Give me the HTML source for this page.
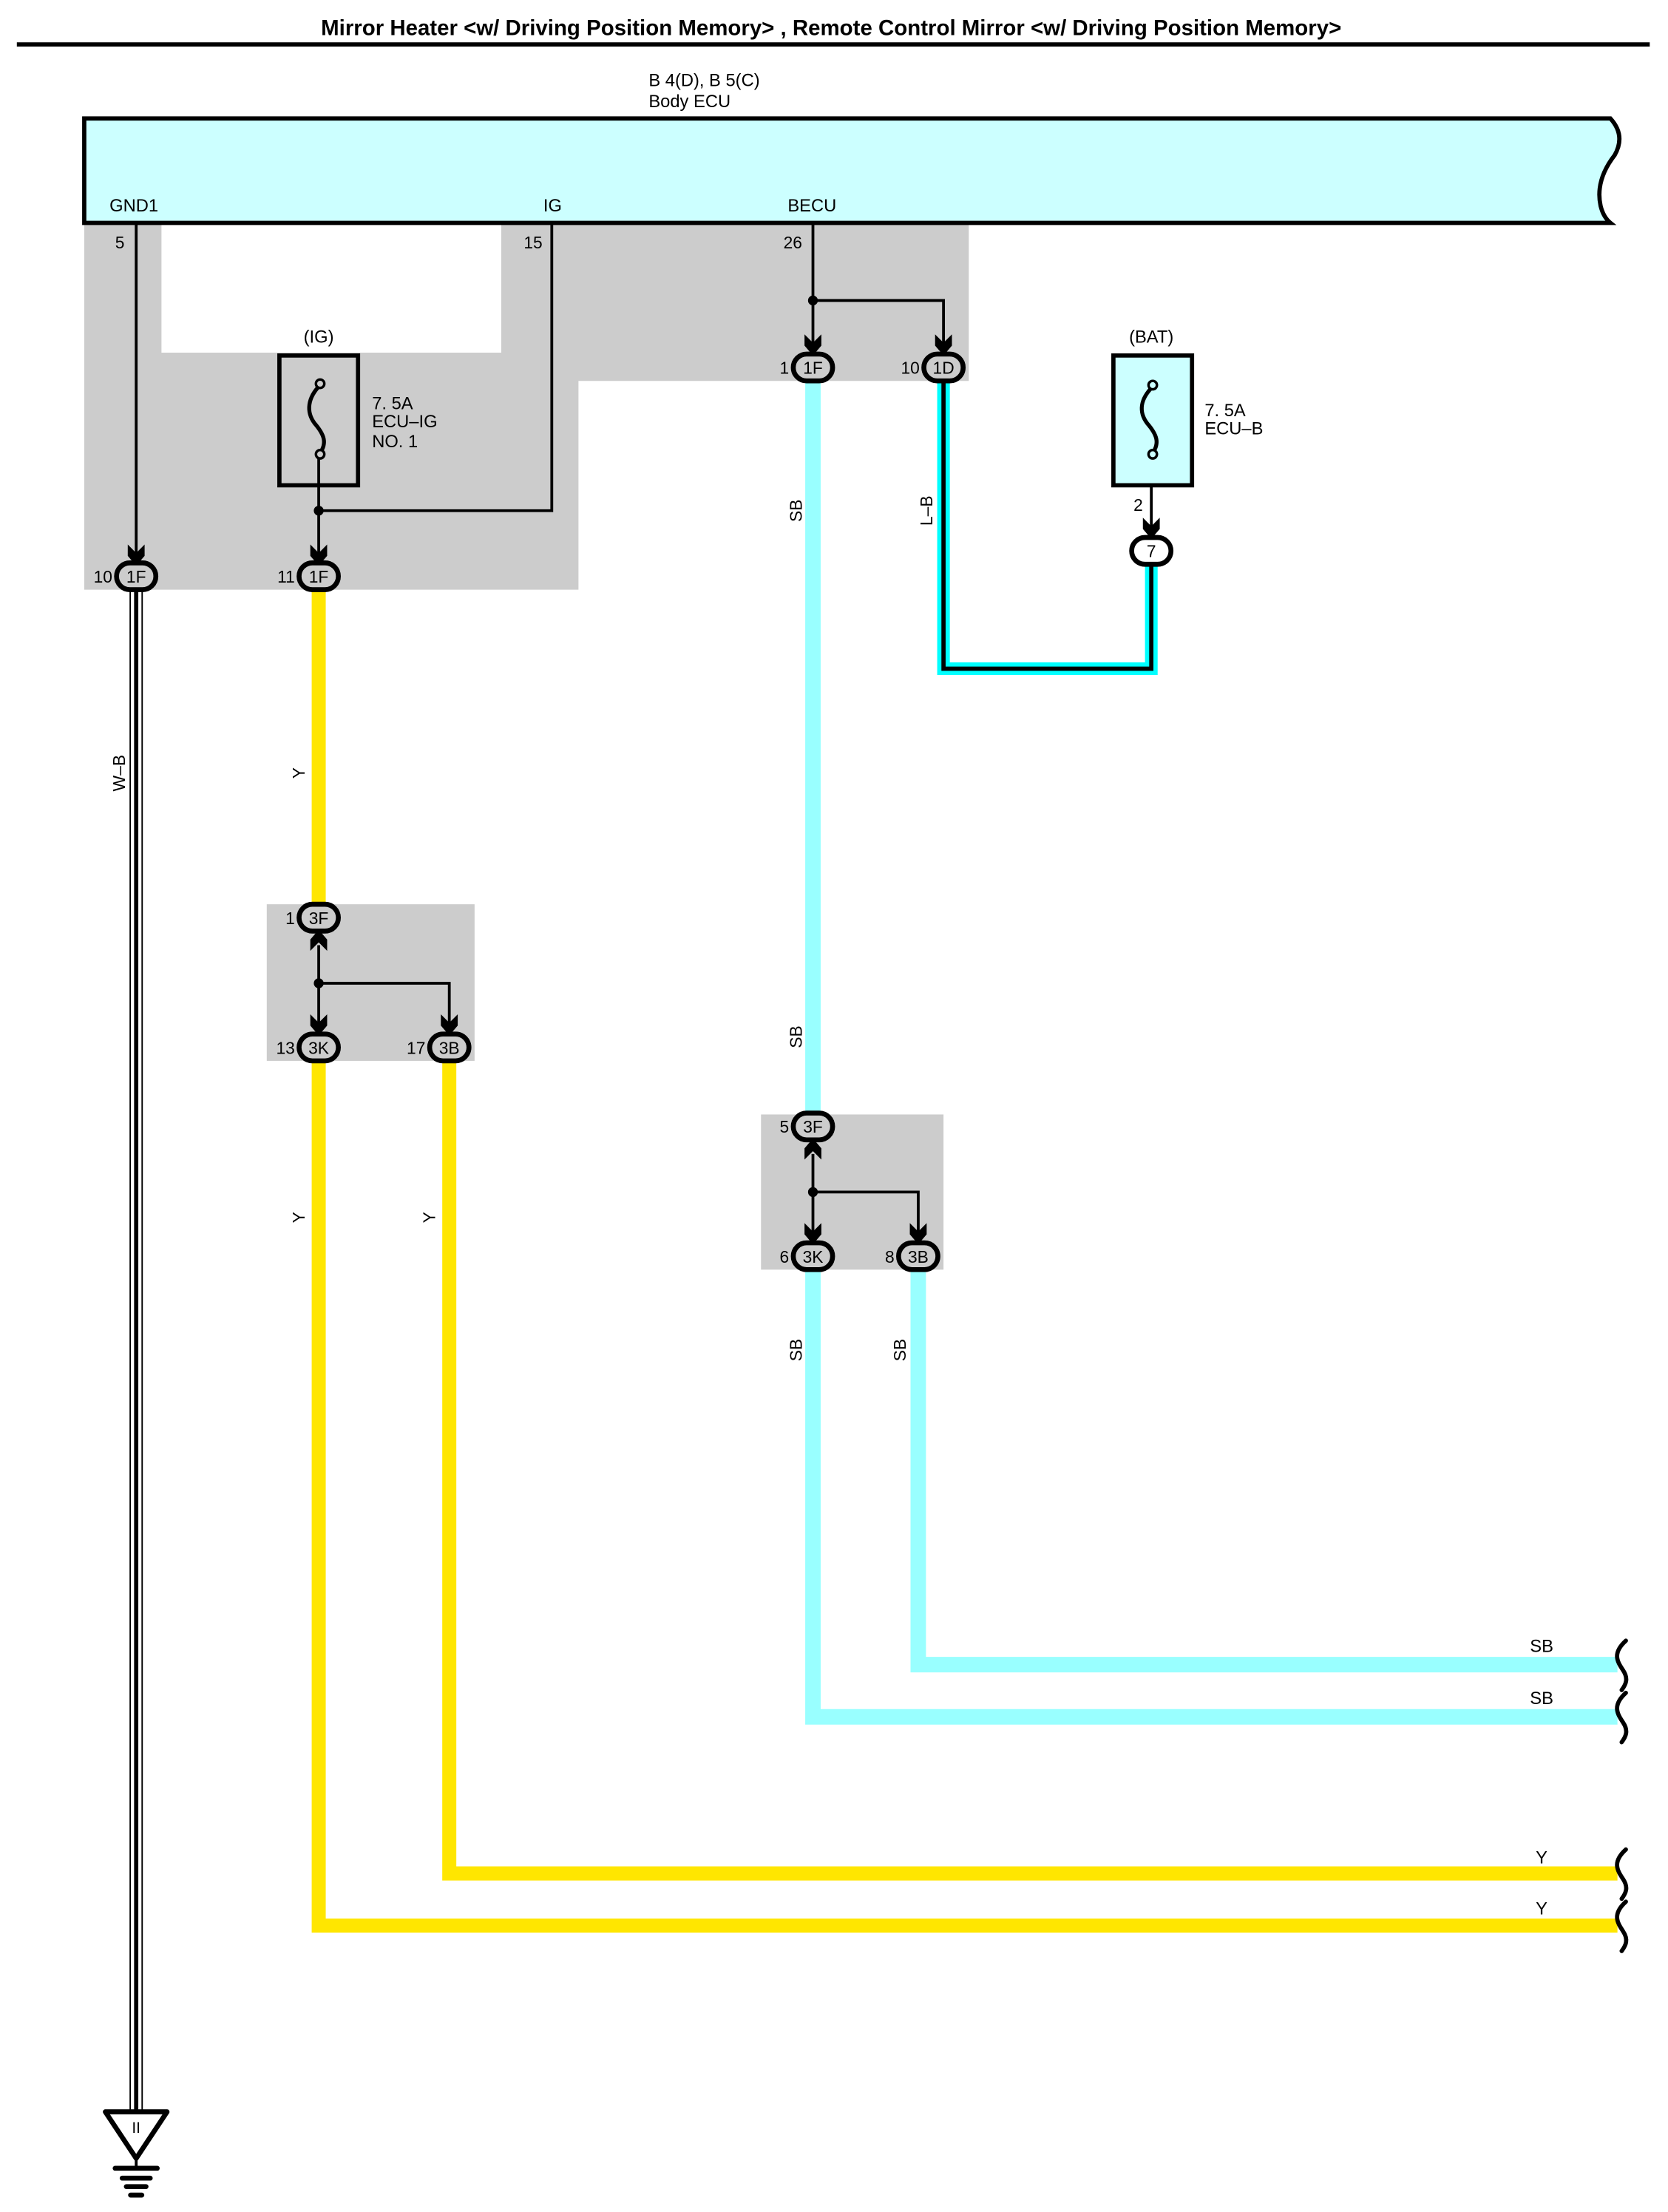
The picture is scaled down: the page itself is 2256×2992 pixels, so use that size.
<!DOCTYPE html>
<html><head><meta charset="utf-8"><style>
html,body{margin:0;padding:0;background:#fff}
svg{display:block}
text{font-family:"Liberation Sans",sans-serif;fill:#000}
</style></head><body>
<svg width="2256" height="2992" viewBox="0 0 1188 1568" preserveAspectRatio="none" xmlns="http://www.w3.org/2000/svg">
<defs>
<g id="ad"><polygon points="-6,-14 0,-8 6,-14 6,-6 0,1 -6,-6" fill="#000"/></g>
</defs>
<text x="592" y="25" font-size="15.5" font-weight="bold" text-anchor="middle">Mirror Heater &lt;w/ Driving Position Memory&gt; , Remote Control Mirror &lt;w/ Driving Position Memory&gt;</text>
<rect x="12" y="30" width="1163" height="3" fill="#000"/>
<text x="462" y="61" font-size="12.5">B 4(D), B 5(C)</text>
<text x="462" y="76" font-size="12.5">Body ECU</text>

<polygon points="60,158 115,158 115,250 357,250 357,158 690,158 690,270 412,270 412,418 60,418" fill="#cccccc"/>
<rect x="190" y="641" width="148" height="111" fill="#cccccc"/>
<rect x="542" y="790" width="130" height="110" fill="#cccccc"/>

<path d="M60,84 L1147,84 Q1158,96 1150,110 Q1136,128 1140,146 Q1142,154 1147,158 L60,158 Z" fill="#ccffff" stroke="#000" stroke-width="3"/>
<text x="78" y="150" font-size="12.5">GND1</text>
<text x="387" y="150" font-size="12.5">IG</text>
<text x="561" y="150" font-size="12.5">BECU</text>
<text x="82" y="176" font-size="12">5</text>
<text x="373" y="176" font-size="12">15</text>
<text x="558" y="176" font-size="12">26</text>

<g fill="none" stroke-linejoin="miter">
<path d="M97,418 L97,1496" stroke="#000" stroke-width="9.5"/>
<path d="M97,418 L97,1496" stroke="#fff" stroke-width="7.5"/>
<path d="M97,418 L97,1496" stroke="#000" stroke-width="3"/>
<path d="M227,418 L227,642" stroke="#ffe600" stroke-width="10"/>
<path d="M227,752 L227,1365 L1152,1365" stroke="#ffe600" stroke-width="10"/>
<path d="M320,752 L320,1328 L1152,1328" stroke="#ffe600" stroke-width="10"/>
<path d="M579,268 L579,790" stroke="#99ffff" stroke-width="11"/>
<path d="M579,900 L579,1217 L1152,1217" stroke="#99ffff" stroke-width="11"/>
<path d="M654,900 L654,1180 L1152,1180" stroke="#99ffff" stroke-width="11"/>
<path d="M672,268 L672,474 L820,474 L820,398" stroke="#00ffff" stroke-width="9"/>
<path d="M672,268 L672,474 L820,474 L820,398" stroke="#000" stroke-width="3"/>
</g>

<g fill="none" stroke="#000" stroke-width="2">
<path d="M97,158 L97,392"/>
<path d="M393,158 L393,362 L227,362"/>
<path d="M227,322 L227,392"/>
<path d="M579,158 L579,244"/>
<path d="M579,213 L672,213 L672,244"/>
<path d="M227,670 L227,726"/>
<path d="M227,697 L320,697 L320,726"/>
<path d="M579,818 L579,874"/>
<path d="M579,845 L654,845 L654,874"/>
<path d="M820,322 L820,374"/>
</g>
<g fill="#000">
<circle cx="227" cy="362" r="3.5"/><circle cx="579" cy="213" r="3.5"/>
<circle cx="227" cy="697" r="3.5"/><circle cx="579" cy="845" r="3.5"/>
</g>
<use href="#ad" x="97" y="400"/><use href="#ad" x="227" y="400"/>
<use href="#ad" x="579" y="251"/><use href="#ad" x="672" y="251"/>
<use href="#ad" x="820" y="381"/>
<use href="#ad" x="227" y="733"/><use href="#ad" x="320" y="733"/>
<use href="#ad" x="579" y="881"/><use href="#ad" x="654" y="881"/>
<use href="#ad" transform="translate(227,660) scale(1,-1)"/>
<use href="#ad" transform="translate(579,808) scale(1,-1)"/>

<g stroke="#000" stroke-width="3.5" fill="#cccccc">
<rect x="83" y="399" width="28" height="19" rx="9.5"/>
<rect x="213" y="399" width="28" height="19" rx="9.5"/>
<rect x="565" y="251" width="28" height="19" rx="9.5"/>
<rect x="658" y="251" width="28" height="19" rx="9.5"/>
<rect x="806" y="381" width="28" height="19" rx="9.5" fill="#fff"/>
<rect x="213" y="641" width="28" height="19" rx="9.5"/>
<rect x="213" y="733" width="28" height="19" rx="9.5"/>
<rect x="306" y="733" width="28" height="19" rx="9.5"/>
<rect x="565" y="789" width="28" height="19" rx="9.5"/>
<rect x="565" y="881" width="28" height="19" rx="9.5"/>
<rect x="640" y="881" width="28" height="19" rx="9.5"/>
</g>
<g font-size="12" text-anchor="middle">
<text x="97" y="413">1F</text><text x="227" y="413">1F</text>
<text x="579" y="265">1F</text><text x="672" y="265">1D</text>
<text x="820" y="395">7</text>
<text x="227" y="655">3F</text><text x="227" y="747">3K</text><text x="320" y="747">3B</text>
<text x="579" y="803">3F</text><text x="579" y="895">3K</text><text x="654" y="895">3B</text>
</g>
<g font-size="12" text-anchor="end">
<text x="80" y="413">10</text><text x="210" y="413">11</text>
<text x="562" y="265">1</text><text x="655" y="265">10</text>
<text x="814" y="362">2</text>
<text x="210" y="655">1</text><text x="210" y="747">13</text><text x="303" y="747">17</text>
<text x="562" y="803">5</text><text x="562" y="895">6</text><text x="637" y="895">8</text>
</g>

<rect x="199" y="252" width="56" height="92" fill="none" stroke="#000" stroke-width="3"/>
<path d="M228,273 C219,282 218,292 224,300 C231,308 233,314 228,321" fill="none" stroke="#000" stroke-width="2.8"/>
<circle cx="228" cy="272" r="3" fill="#cccccc" stroke="#000" stroke-width="1.8"/>
<circle cx="228" cy="322" r="3" fill="#cccccc" stroke="#000" stroke-width="1.8"/>
<text x="227" y="243" font-size="12.5" text-anchor="middle">(IG)</text>
<text x="265" y="290" font-size="12.5">7. 5A</text>
<text x="265" y="303" font-size="12.5">ECU–IG</text>
<text x="265" y="317" font-size="12.5">NO. 1</text>

<rect x="793" y="252" width="56" height="92" fill="#ccffff" stroke="#000" stroke-width="3"/>
<path d="M821,274 C812,283 811,292 817,300 C824,308 826,314 821,321" fill="none" stroke="#000" stroke-width="2.8"/>
<circle cx="821" cy="273" r="3" fill="#ccffff" stroke="#000" stroke-width="1.8"/>
<circle cx="821" cy="322" r="3" fill="#ccffff" stroke="#000" stroke-width="1.8"/>
<text x="820" y="243" font-size="12.5" text-anchor="middle">(BAT)</text>
<text x="858" y="295" font-size="12.5">7. 5A</text>
<text x="858" y="308" font-size="12.5">ECU–B</text>

<g font-size="12" text-anchor="middle">
<text transform="translate(89,548) rotate(-90)">W–B</text>
<text transform="translate(217,548) rotate(-90)">Y</text>
<text transform="translate(217,863) rotate(-90)">Y</text>
<text transform="translate(310,863) rotate(-90)">Y</text>
<text transform="translate(571,362) rotate(-90)">SB</text>
<text transform="translate(571,735) rotate(-90)">SB</text>
<text transform="translate(571,957) rotate(-90)">SB</text>
<text transform="translate(645,957) rotate(-90)">SB</text>
<text transform="translate(664,362) rotate(-90)">L–B</text>
</g>
<g font-size="12.5" text-anchor="middle">
<text x="1098" y="1171">SB</text><text x="1098" y="1208">SB</text>
<text x="1098" y="1321">Y</text><text x="1098" y="1357">Y</text>
</g>
<g fill="none" stroke="#000" stroke-width="3" stroke-linecap="round">
<path d="M1158,1163 C1148,1172 1152,1178 1156,1184 C1160,1190 1158,1194 1155,1198"/>
<path d="M1158,1200 C1148,1209 1152,1215 1156,1221 C1160,1227 1158,1231 1155,1235"/>
<path d="M1158,1311 C1148,1320 1152,1326 1156,1332 C1160,1338 1158,1342 1155,1346"/>
<path d="M1158,1348 C1148,1357 1152,1363 1156,1369 C1160,1375 1158,1379 1155,1383"/>
</g>

<polygon points="75,1497 119,1497 97,1530" fill="#fff" stroke="#000" stroke-width="3.5" stroke-linejoin="round"/>
<text x="97" y="1512" font-size="11" text-anchor="middle">II</text>
<g stroke="#000" stroke-linecap="round">
<line x1="97" y1="1530" x2="97" y2="1537" stroke-width="2"/>
<line x1="82" y1="1537" x2="112" y2="1537" stroke-width="3.5"/>
<line x1="87" y1="1544" x2="107" y2="1544" stroke-width="3.5"/>
<line x1="90" y1="1550" x2="104" y2="1550" stroke-width="3.5"/>
<line x1="93" y1="1556" x2="101" y2="1556" stroke-width="3.5"/>
</g>
</svg>
</body></html>
